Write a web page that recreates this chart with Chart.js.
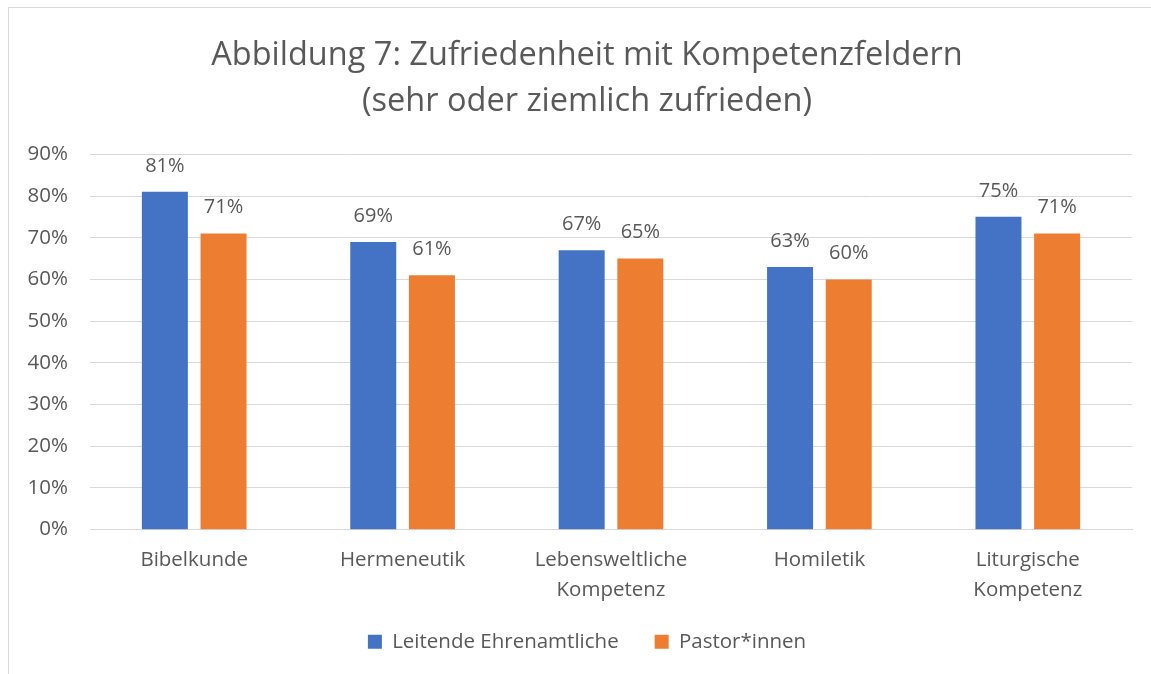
<!DOCTYPE html>
<html>
<head>
<meta charset="utf-8">
<script src="https://cdn.jsdelivr.net/npm/chart.js@4.4.1/dist/chart.umd.min.js"></script>
<style>
  body { margin: 0; background: #fff; }
  #rahmen { position: absolute; left: 8px; top: 7px; width: 1200px; height: 720px; border: 1.5px solid #d9d9d9; box-sizing: border-box; }
  #chart { position: absolute; left: 0; top: 0; }
</style>
</head>
<body>
<div id="rahmen"></div>
<canvas id="chart" width="1151" height="674"></canvas>
<script>
// Daten
const kategorien = ['Bibelkunde', 'Hermeneutik', ['Lebensweltliche', 'Kompetenz'], 'Homiletik', ['Liturgische', 'Kompetenz']];
const leitendeEhrenamtliche = [81, 69, 67, 63, 75];
const pastorInnen = [71, 61, 65, 60, 71];
const titelZeilen = ['Abbildung 7: Zufriedenheit mit Kompetenzfeldern', '(sehr oder ziemlich zufrieden)'];

const grau = '#595959';
const schrift = "'Open Sans', 'Liberation Sans', sans-serif";

// Prozentwerte über den Balken
const wertBeschriftung = {
    id: 'wertBeschriftung',
    afterDatasetsDraw(chart) {
        const ctx = chart.ctx;
        ctx.save();
        ctx.font = '20px ' + schrift;
        ctx.fillStyle = grau;
        ctx.textAlign = 'center';
        ctx.textBaseline = 'bottom';
        chart.data.datasets.forEach((ds, i) => {
            chart.getDatasetMeta(i).data.forEach((bar, j) => {
                ctx.fillText(ds.data[j] + '%', bar.x, bar.y - 16);
            });
        });
        ctx.restore();
    }
};

new Chart(document.getElementById('chart').getContext('2d'), {
    type: 'bar',
    data: {
        labels: kategorien,
        datasets: [{
            label: 'Leitende Ehrenamtliche',
            data: leitendeEhrenamtliche,
            backgroundColor: '#4472c4'
        }, {
            label: 'Pastor*innen',
            data: pastorInnen,
            backgroundColor: '#ed7d31'
        }]
    },
    options: {
        responsive: false,
        animation: false,
        categoryPercentage: 0.563,
        barPercentage: 0.784,
        layout: { padding: { left: 32, right: 9, top: 10, bottom: 12 } },
        plugins: {
            title: {
                display: true,
                text: titelZeilen,
                color: grau,
                font: { family: schrift, size: 32.5, weight: 'normal', lineHeight: 1.42 },
                padding: { top: 23, bottom: 29 }
            },
            legend: {
                position: 'bottom',
                labels: {
                    color: grau,
                    font: { family: schrift, size: 20.5 },
                    boxWidth: 14,
                    boxHeight: 14,
                    padding: 36
                }
            },
            tooltip: { enabled: false }
        },
        scales: {
            x: {
                grid: { display: false, drawTicks: false },
                border: { color: '#d9d9d9', width: 1 },
                ticks: {
                    color: grau,
                    font: { family: schrift, size: 20.5, lineHeight: 1.46 },
                    padding: 16,
                    maxRotation: 0
                },
                afterFit(scale) {
                    // Achse etwas flacher, Beschriftung aber nicht abschneiden
                    scale.height = scale.height - 26;
                    scale._computeLabelArea = () => undefined;
                }
            },
            y: {
                min: 0,
                max: 90,
                grid: { color: '#d9d9d9', drawTicks: false },
                border: { display: false },
                ticks: {
                    stepSize: 10,
                    color: grau,
                    font: { family: schrift, size: 20.5 },
                    padding: 22,
                    callback: v => v + '%'
                },
                afterFit(scale) {
                    scale.width = 58;
                    scale._computeLabelArea = () => undefined;
                }
            },
            // leerer Rand rechts, damit Titel und Legende wie im Original sitzen
            rechts: {
                position: 'right',
                grid: { display: false, drawTicks: false },
                border: { display: false },
                ticks: { display: false },
                afterFit(scale) { scale.width = 10; }
            }
        }
    },
    plugins: [wertBeschriftung]
});
</script>
</body>
</html>
